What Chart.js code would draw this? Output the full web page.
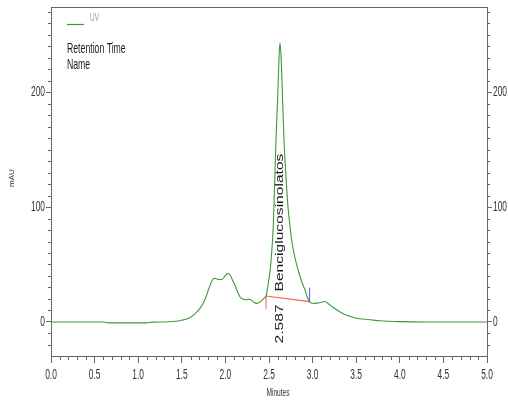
<!DOCTYPE html>
<html>
<head>
<meta charset="utf-8">
<script src="https://cdn.jsdelivr.net/npm/chart.js@4.4.1/dist/chart.umd.min.js"></script>
<style>
html,body{margin:0;padding:0;background:#fff;}
#wrap{width:508px;height:400px;position:relative;}
</style>
</head>
<body>
<div id="wrap"><canvas id="c" width="508" height="400"></canvas></div>
<script>
// ---- data ----
const times = [0.00,0.60,0.66,1.10,1.16,1.30,1.40,1.50,1.59,1.65,1.71,1.75,1.785,1.81,1.84,1.86,1.88,1.92,1.96,2.00,2.03,2.06,2.09,2.11,2.14,2.17,2.20,2.24,2.28,2.32,2.36,2.40,2.44,2.466,2.48,2.50,2.52,2.55,2.58,2.60,2.615,2.626,2.64,2.655,2.672,2.69,2.718,2.74,2.76,2.80,2.844,2.88,2.913,2.94,2.965,3.00,3.03,3.07,3.10,3.14,3.18,3.22,3.28,3.34,3.39,3.50,3.66,3.77,4.00,4.30,5.00];
const mau   = [0,0,-0.8,-0.8,-0.1,0,0.4,1.5,3.7,7,12,17,23.5,29,35,37.5,38,37,37,40.5,42.3,40,35,32,26,21.5,20,19.3,19.7,17.5,16.2,17.5,20.5,22.6,28,38,50,85,158,196,230,243,228,195,158,132,100,84,71,55,42.6,34,27.8,21.5,17.5,16.3,16.2,16.6,17.2,17.8,15.8,13.5,10.4,7.5,5.8,3.2,2,1.1,0.3,0,0];
// integration baseline (start, end) and peak markers
const baselineX = [2.466, 2.965];
const baselineY = [22.6, 17.7];
const startTickY = [22.6, 11];
const endTickY = [29.8, 17.7];
// tick values / labels
const xMajorTicks = [0,0.5,1,1.5,2,2.5,3,3.5,4,4.5,5];
const xTickLabels = ["0.0","0.5","1.0","1.5","2.0","2.5","3.0","3.5","4.0","4.5","5.0"];
const yMajorTicks = [0,100,200];
const yTickLabels = ["0","100","200"];
const xRange = [0,5];
const yRange = [-29.6,274];
// texts
const seriesName = "UV";
const legendLines = ["Retention Time","Name"];
const peakName = "Benciglucosinolatos";
const peakRT = "2.587";
const peakTextX = 2.628;
const xTitle = "Minutes";
const yTitle = "mAU";

const SANS = "'Liberation Sans',Arial,sans-serif";
const SX = 0.6;   // horizontal squeeze of the reference's lettering
const SXR = 0.75; // squeeze for the rotated peak labels

const green = '#3a9a3a';
const axisCol = '#666666';
const txtCol = '#333333';

const chromo = times.map((t,i)=>({x:t,y:mau[i]}));

function fixTicks(list){
  return function(scale){ scale.ticks = list.map(v=>({value:v})); };
}

function txt(ctx, s, x, y, size, align, base, color, rot){
  ctx.save();
  ctx.translate(x, y);
  if (rot){ ctx.rotate(-Math.PI/2); ctx.scale(1, SXR); }
  else ctx.scale(SX, 1);
  ctx.font = size + "px " + SANS;
  ctx.fillStyle = color;
  ctx.textAlign = align; ctx.textBaseline = base;
  ctx.fillText(s, 0, 0);
  ctx.restore();
}

const overlay = {
  id:'overlay',
  afterDraw(chart){
    const {ctx, chartArea:a, scales} = chart;
    const x = scales.x, y = scales.y;
    ctx.save();
    ctx.strokeStyle = axisCol;
    ctx.lineWidth = 1;
    // frame
    ctx.strokeRect(Math.round(a.left)+0.5, Math.round(a.top)+0.5, Math.round(a.right-a.left), Math.round(a.bottom-a.top));
    // minor ticks y (every 10)
    ctx.beginPath();
    for(let v=-20; v<=270; v+=10){
      if (v%100===0) continue;
      const py = Math.round(y.getPixelForValue(v))+0.5;
      ctx.moveTo(a.left-3, py); ctx.lineTo(a.left, py);
      ctx.moveTo(a.right, py); ctx.lineTo(a.right+3, py);
    }
    // minor ticks x (every 0.1)
    for(let k=0;k<=50;k++){
      if (k%5===0) continue;
      const px = Math.round(x.getPixelForValue(k/10))+0.5;
      ctx.moveTo(px, a.bottom); ctx.lineTo(px, a.bottom+4);
    }
    ctx.stroke();

    // tick labels
    xMajorTicks.forEach((v,i)=>{
      txt(ctx, xTickLabels[i], x.getPixelForValue(v), a.bottom+19, 14, 'center', 'middle', txtCol);
    });
    yMajorTicks.forEach((v,i)=>{
      const py = y.getPixelForValue(v);
      txt(ctx, yTickLabels[i], a.left-6, py, 14, 'right', 'middle', txtCol);
      txt(ctx, yTickLabels[i], a.right+6, py, 14, 'left', 'middle', txtCol);
    });

    // legend
    ctx.strokeStyle = green; ctx.lineWidth = 1.2;
    ctx.beginPath(); ctx.moveTo(67, 24.5); ctx.lineTo(84, 24.5); ctx.stroke();
    txt(ctx, seriesName, 90, 21, 11, 'left', 'alphabetic', '#a0a0a0');
    txt(ctx, legendLines[0], 67, 52.5, 14.5, 'left', 'alphabetic', '#1a1a1a');
    txt(ctx, legendLines[1], 67, 68.5, 14.5, 'left', 'alphabetic', '#1a1a1a');

    // axis titles
    txt(ctx, xTitle, 278, 393, 11, 'center', 'middle', txtCol);
    ctx.save();
    ctx.translate(12, 178); ctx.rotate(-Math.PI/2);
    ctx.font = "8px " + SANS; ctx.fillStyle = txtCol;
    ctx.textAlign='center'; ctx.textBaseline='middle';
    ctx.fillText(yTitle, 0, 0);
    ctx.restore();

    // peak annotations
    const px = x.getPixelForValue(peakTextX);
    txt(ctx, peakName, px, y.getPixelForValue(86.5), 15.6, 'center', 'middle', '#1a1a1a', true);
    txt(ctx, peakRT, px, y.getPixelForValue(-1.7), 15.6, 'center', 'middle', '#1a1a1a', true);
    ctx.restore();
  }
};

new Chart(document.getElementById('c'), {
  type:'line',
  data:{
    datasets:[
      {data:chromo, borderColor:green, borderWidth:1.1, pointRadius:0, cubicInterpolationMode:'monotone', yAxisID:'y'},
      {data:baselineX.map((t,i)=>({x:t,y:baselineY[i]})), borderColor:'#ff5a5a', borderWidth:1.2, pointRadius:0, yAxisID:'y'},
      {data:startTickY.map(v=>({x:baselineX[0],y:v})), borderColor:'#ff7a7a', borderWidth:1.2, pointRadius:0, yAxisID:'y'},
      {data:endTickY.map(v=>({x:baselineX[1],y:v})), borderColor:'#6a6aff', borderWidth:1.2, pointRadius:0, yAxisID:'y'}
    ]
  },
  options:{
    responsive:false, animation:false, devicePixelRatio:1,
    layout:{padding:{top:7,left:0,right:0,bottom:0}},
    plugins:{legend:{display:false}, tooltip:{enabled:false}},
    scales:{
      x:{type:'linear', min:xRange[0], max:xRange[1], position:'bottom',
         afterBuildTicks: fixTicks(xMajorTicks),
         afterFit(s){ s.height = 44; },
         grid:{display:true, drawOnChartArea:false, drawTicks:true, tickLength:7, color:axisCol},
         border:{display:true, color:axisCol},
         ticks:{display:false}},
      y:{type:'linear', min:yRange[0], max:yRange[1], position:'left',
         afterBuildTicks: fixTicks(yMajorTicks),
         afterFit(s){ s.width = 51; },
         grid:{display:true, drawOnChartArea:false, drawTicks:true, tickLength:5, color:axisCol},
         border:{display:true, color:axisCol},
         ticks:{display:false}},
      y2:{type:'linear', min:yRange[0], max:yRange[1], position:'right',
         afterBuildTicks: fixTicks(yMajorTicks),
         afterFit(s){ s.width = 21; },
         grid:{display:true, drawOnChartArea:false, drawTicks:true, tickLength:5, color:axisCol},
         border:{display:true, color:axisCol},
         ticks:{display:false}}
    }
  },
  plugins:[overlay]
});
</script>
</body>
</html>
